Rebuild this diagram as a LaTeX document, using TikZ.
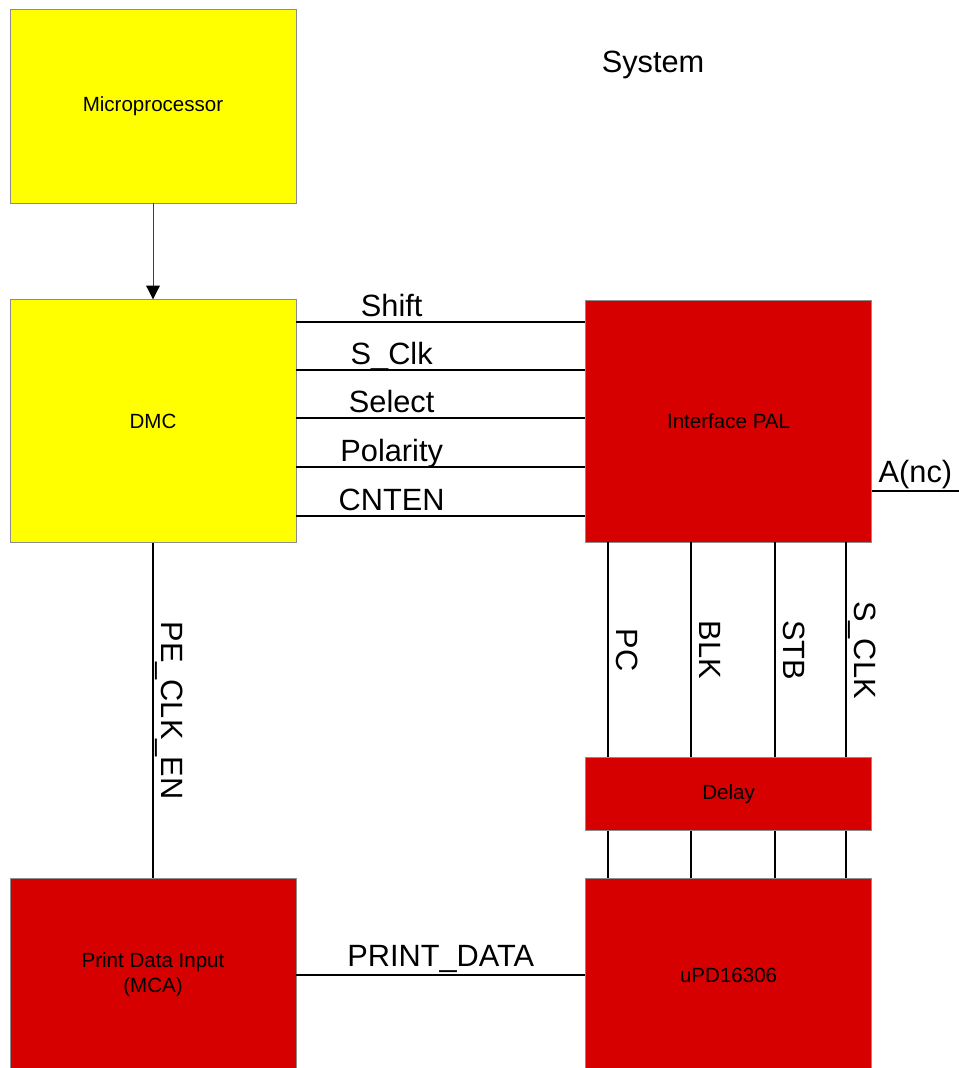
\documentclass[tikz,border=0pt]{standalone}
\usepackage{fontspec}
\setmainfont{Liberation Sans}
\usetikzlibrary{arrows.meta,positioning}
\definecolor{BlkYellow}{HTML}{FFFF00}
\definecolor{BlkRed}{HTML}{D60000}
\definecolor{BlkEdge}{HTML}{8C8C8C}

\begin{document}
\begin{tikzpicture}[
  x=0.02cm,y=-0.02cm,
  blk/.style={draw=BlkEdge,line width=0.4pt,align=center,minimum width=5.72cm,inner sep=0pt,font=\fontsize{11.7}{14}\selectfont},
  sig/.style={line width=0.8pt},
  lbl/.style={font=\fontsize{17.5}{20}\selectfont,text depth=0pt,inner sep=4.5pt},
]
\useasboundingbox (0,0) rectangle (959,1068);
\clip (0,0) rectangle (959,1068);
\node[blk,fill=BlkYellow,minimum height=3.88cm] (mp) at (153,106) {Microprocessor};
\node[blk,fill=BlkYellow,minimum height=4.86cm,below=1.92cm of mp] (dmc) {DMC};
\node[blk,fill=BlkRed,minimum height=4.84cm,right=5.78cm of dmc] (pal) {Interface PAL};
\node[blk,fill=BlkRed,minimum height=1.46cm,below=4.3cm of pal] (dly) {Delay};
\node[blk,fill=BlkRed,minimum height=3.86cm,below=0.94cm of dly] (upd) {uPD16306};
\node[blk,fill=BlkRed,minimum height=3.86cm,left=5.78cm of upd] (pdi) {Print Data Input\\(MCA)};
\node[lbl] (sys) at (653,62) {System};
\coordinate (anc) at (959,491);

\draw[line width=0.5pt,draw=black!75,-{Triangle[width=7.8pt,length=7.8pt,color=black]}] (mp.south) -- (dmc.north);
\foreach \name/\yy in {Shift/322,S\_Clk/370,Select/418,Polarity/467,CNTEN/516}
  \draw[sig] (dmc.east |- 0,\yy) -- node[lbl,above,inner sep=2.5pt,pos=0.33] {\name} (pal.west |- 0,\yy);
\draw[sig] (pal.east |- anc) -- node[lbl,above] {A(nc)} (anc);
\foreach \name/\xx in {PC/608,BLK/691,STB/775,S\_CLK/846}{
  \draw[sig] (\xx,0 |- pal.south) -- node[lbl,rotate=-90,anchor=south] {\name} (\xx,0 |- dly.north);
  \draw[sig] (\xx,0 |- dly.south) -- (\xx,0 |- upd.north);
}
\draw[sig] (dmc.south) -- node[lbl,rotate=-90,anchor=south] {PE\_CLK\_EN} (pdi.north);
\draw[sig] (pdi.east) -- node[lbl,above] {PRINT\_DATA} (upd.west);
\end{tikzpicture}
\end{document}
